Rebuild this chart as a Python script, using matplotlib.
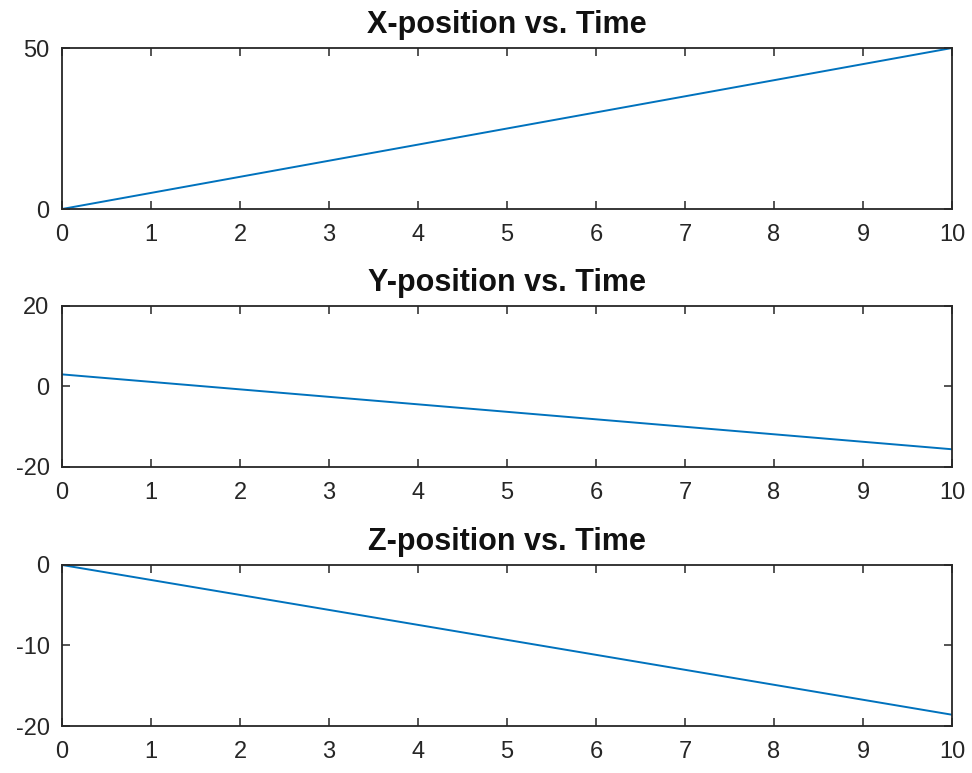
import matplotlib.pyplot as plt

# time samples and position components
t = [0, 1, 2, 3, 4, 5, 6, 7, 8, 9, 10]
x_pos = [0, 5, 10, 15, 20, 25, 30, 35, 40, 45, 50]
y_pos = [3.0, 1.14, -0.72, -2.58, -4.44, -6.3, -8.16, -10.02, -11.88, -13.74, -15.6]
z_pos = [0, -1.86, -3.72, -5.58, -7.44, -9.3, -11.16, -13.02, -14.88, -16.74, -18.6]

titles = ["X-position vs. Time", "Y-position vs. Time", "Z-position vs. Time"]
ylims = [(0, 50), (-20, 20), (-20, 0)]
yticks = [[0, 50], [-20, 0, 20], [-20, -10, 0]]

plt.rcParams['font.family'] = ['Liberation Sans', 'DejaVu Sans']
plt.rcParams['axes.unicode_minus'] = False

fig = plt.figure(figsize=(9.72, 7.73), dpi=100)
bottoms = [0.7296, 0.3959, 0.0608]
line_color = '#0072BD'
edge = '#262626'

for b, series, title, yl, yt in zip(bottoms, [x_pos, y_pos, z_pos], titles, ylims, yticks):
    ax = fig.add_axes([0.0638, b, 0.9156, 0.2083])
    ax.plot(t, series, color=line_color, lw=1.4)
    ax.set_xlim(0, 10)
    ax.set_ylim(*yl)
    ax.set_xticks(range(0, 11))
    ax.set_yticks(yt)
    ax.set_title(title, fontsize=22, fontweight='bold', color='#111111', pad=11)
    ax.tick_params(direction='in', length=6, width=1.1, colors=edge,
                   labelsize=17, labelcolor='#262626', top=True, right=True)
    ax.tick_params(axis='x', pad=11)
    ax.tick_params(axis='y', pad=9)
    for s in ax.spines.values():
        s.set_color(edge)
        s.set_linewidth(1.3)

fig.savefig("out.png", dpi=100)
